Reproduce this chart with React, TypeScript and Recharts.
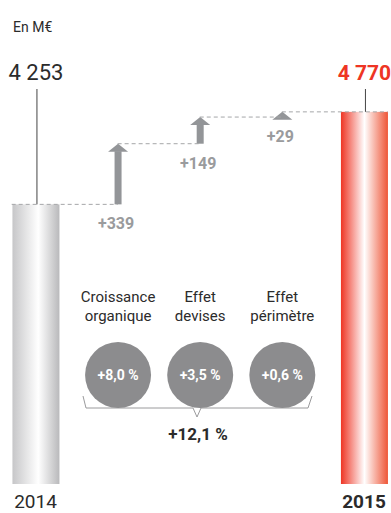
import React from 'react';
import { ComposedChart, Bar, XAxis, YAxis, ReferenceLine } from 'recharts';

// Revenue bridge, in millions of euros
const years = ['2014', '2015'];
const totals = [4253, 4770];
const drivers = [
  ['Croissance', 'organique'],
  ['Effet', 'devises'],
  ['Effet', 'périmètre'],
];
const driverDeltas = [339, 149, 29];
const driverRates = ['+8,0 %', '+3,5 %', '+0,6 %'];
const totalRate = '+12,1 %';
const unitLabel = 'En M€';

const Y_MIN = 2690;
const Y_MAX = 4890;

const FONT = 'Roboto, "DejaVu Sans", sans-serif';
const ARROW_GREY = '#939598';
const LABEL_GREY = '#9a9b9d';
const CIRCLE_GREY = '#8c8c8e';
const INK = '#2b2b2b';
const RED = '#ee3524';

type Row = {
  x: number;
  kind: 'total' | 'delta';
  range: [number, number];
  label: string;
  idx: number;
};

const rows: Row[] = [];
let running = totals[0];
rows.push({ x: 0, kind: 'total', range: [Y_MIN, totals[0]], label: years[0], idx: 0 });
driverDeltas.forEach((d, i) => {
  rows.push({ x: i + 1, kind: 'delta', range: [running, running + d], label: `+${d}`, idx: i });
  running += d;
});
rows.push({ x: 4, kind: 'total', range: [Y_MIN, totals[1]], label: years[1], idx: 1 });

// dashed connector levels: each level runs from one step to the next
const levels: number[] = [totals[0]];
driverDeltas.forEach((d) => levels.push(levels[levels.length - 1] + d));

const fmt = (v: number) => {
  const s = String(v);
  return s.length > 3 ? `${s.slice(0, s.length - 3)} ${s.slice(-3)}` : s;
};

const StepShape = (props: any) => {
  const { x, y, width, height, payload } = props;
  const row: Row = payload;
  const cx = x + width / 2;
  if (row.kind === 'total') {
    const isLast = row.idx === 1;
    return (
      <g>
        <rect x={x} y={y} width={width} height={height} fill={isLast ? 'url(#gradRed)' : 'url(#gradGrey)'} />
        <line x1={cx + 1} x2={cx + 1} y1={89} y2={y} stroke="#444" strokeWidth={1} />
        <text
          x={cx}
          y={80}
          textAnchor="middle"
          fontFamily={FONT}
          fontSize={isLast ? 21 : 22}
          fontWeight={isLast ? 700 : 400}
          fill={isLast ? RED : INK}
        >
          {fmt(totals[row.idx])}
        </text>
      </g>
    );
  }
  const headH = 8;
  const headW = 20;
  const shaftW = 7;
  const top = y;
  const bottom = y + height;
  const rate = driverRates[row.idx];
  const [l1, l2] = drivers[row.idx];
  return (
    <g>
      <rect x={cx - shaftW / 2} y={top + headH - 0.5} width={shaftW} height={Math.max(bottom - top - headH + 0.5, 0)} fill={ARROW_GREY} />
      <polygon points={`${cx - headW / 2},${top + headH} ${cx + headW / 2},${top + headH} ${cx},${top}`} fill={ARROW_GREY} />
      <text x={cx - 2} y={bottom + 25} textAnchor="middle" fontFamily={FONT} fontSize={16} fontWeight={700} fill={LABEL_GREY}>
        {row.label}
      </text>
      <text x={cx} y={302} textAnchor="middle" fontFamily={FONT} fontSize={15} fill={INK}>{l1}</text>
      <text x={cx} y={321} textAnchor="middle" fontFamily={FONT} fontSize={15} fill={INK}>{l2}</text>
      <circle cx={cx} cy={375} r={33} fill={CIRCLE_GREY} />
      <text x={cx} y={380} textAnchor="middle" fontFamily={FONT} fontSize={14} fontWeight={700} fill="#fff">{rate}</text>
    </g>
  );
};

const YearTick = (props: any) => {
  const { x, y, payload } = props;
  const i = payload.value === 0 ? 0 : 1;
  return (
    <text x={x} y={y + 16} textAnchor="middle" fontFamily={FONT} fontSize={19} fontWeight={i === 1 ? 700 : 400} fill={INK}>
      {years[i]}
    </text>
  );
};

export default function App() {
  return (
    <div style={{ position: 'absolute', left: 0, top: 0, width: 391, height: 513, background: '#fff' }}>
      <ComposedChart
        width={391}
        height={513}
        data={rows}
        margin={{ top: 90.4, right: 27, bottom: 0, left: 35.5 }}
      >
        <defs>
          <linearGradient id="gradGrey" x1="0" y1="0" x2="1" y2="0">
            <stop offset="0" stopColor="#c6c6c8" />
            <stop offset="0.55" stopColor="#ffffff" />
            <stop offset="1" stopColor="#b9b9bb" />
          </linearGradient>
          <linearGradient id="gradRed" x1="0" y1="0" x2="1" y2="0">
            <stop offset="0" stopColor="#ee3524" />
            <stop offset="0.5" stopColor="#ffffff" />
            <stop offset="1" stopColor="#ee5536" />
          </linearGradient>
        </defs>
        <XAxis
          dataKey="x"
          type="number"
          domain={[0, 4]}
          ticks={[0, 4]}
          axisLine={false}
          tickLine={false}
          height={29}
          tick={<YearTick />}
          interval={0}
        />
        <YAxis hide type="number" domain={[Y_MIN, Y_MAX]} />
        <Bar dataKey="range" barSize={47} shape={<StepShape />} isAnimationActive={false} />
        {levels.map((lv, i) => (
          <ReferenceLine
            key={i}
            segment={[
              { x: i === 0 ? -0.29 : i, y: lv },
              { x: i === levels.length - 1 ? 4.29 : i + 1, y: lv },
            ]}
            stroke="#a5a6a8"
            strokeDasharray="4 3"
            strokeWidth={1}
            ifOverflow="visible"
          />
        ))}
        {/* brace grouping the three drivers, with the overall growth rate */}
        <g>
          <path
            d="M83,396 L86,408 L193,408 L197,417 L201,408 L308,408 L312,396"
            fill="none"
            stroke="#9a9a9c"
            strokeWidth={1}
          />
          <text x={198} y={440} textAnchor="middle" fontFamily={FONT} fontSize={17} fontWeight={700} fill={INK}>
            {totalRate}
          </text>
        </g>
        <text x={13} y={32} fontFamily={FONT} fontSize={14} fill={INK}>{unitLabel}</text>
      </ComposedChart>
    </div>
  );
}
